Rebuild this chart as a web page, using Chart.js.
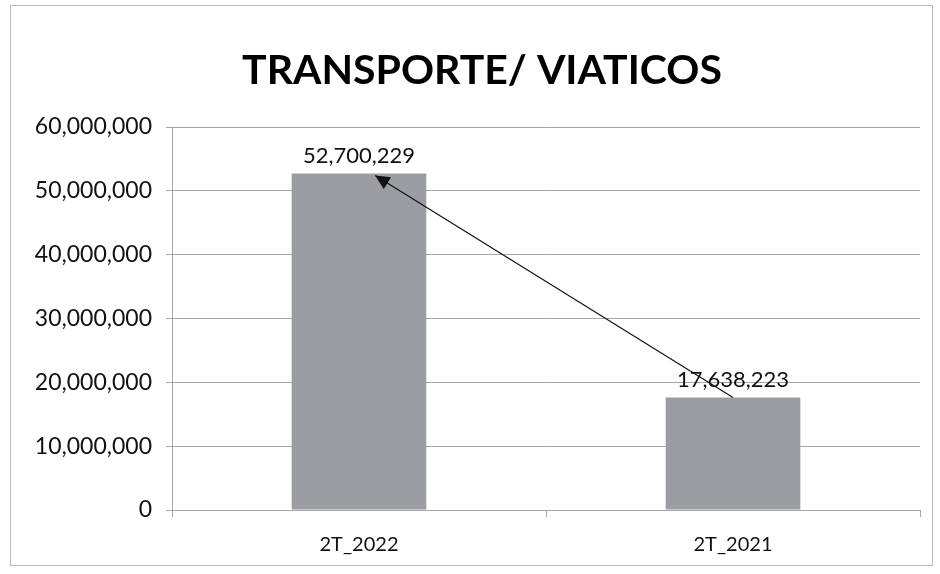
<!DOCTYPE html>
<html>
<head>
<meta charset="utf-8">
<script src="https://cdn.jsdelivr.net/npm/chart.js@4/dist/chart.umd.min.js"></script>
<style>
html,body{margin:0;padding:0;background:#fff;}
#wrap{width:940px;height:574px;position:relative;}
</style>
</head>
<body>
<div id="wrap"><canvas id="c" width="940" height="574"></canvas></div>
<script>
const categories = ["2T_2022", "2T_2021"];
const values = [52700229, 17638223];
const yTicks = [0, 10000000, 20000000, 30000000, 40000000, 50000000, 60000000];
const chartTitle = "TRANSPORTE/ VIATICOS";

const FONT = "Lato, 'Open Sans', sans-serif";
const fmt = v => v.toLocaleString('en-US');

const framePlugin = {
  id: 'frame',
  beforeDraw(chart) {
    const ctx = chart.ctx;
    ctx.save();
    ctx.fillStyle = '#ffffff';
    ctx.fillRect(0, 0, chart.width, chart.height);
    ctx.strokeStyle = '#b8b8b8';
    ctx.lineWidth = 1;
    ctx.strokeRect(10.5, 5.5, 922, 560);
    // title
    ctx.fillStyle = '#000';
    ctx.font = "bold 41px " + FONT;
    ctx.textAlign = 'center';
    ctx.textBaseline = 'alphabetic';
    ctx.fillText(chartTitle, 482, 84);
    ctx.restore();
  }
};

const labelPlugin = {
  id: 'labels',
  afterDatasetsDraw(chart) {
    const ctx = chart.ctx;
    const meta = chart.getDatasetMeta(0);
    ctx.save();
    ctx.font = "22px " + FONT;
    ctx.fillStyle = '#111';
    ctx.textAlign = 'center';
    ctx.textBaseline = 'bottom';
    meta.data.forEach((bar, i) => {
      ctx.fillText(fmt(values[i]), bar.x, bar.y - 7);
    });
    const b0 = meta.data[0], b1 = meta.data[1];
    const x1 = b1.x, y1 = b1.y;
    const x0 = b0.x + b0.width * 0.12, y0 = b0.y + 2;
    ctx.strokeStyle = '#111';
    ctx.lineWidth = 1.2;
    ctx.beginPath();
    ctx.moveTo(x1, y1);
    ctx.lineTo(x0, y0);
    ctx.stroke();
    const ang = Math.atan2(y0 - y1, x0 - x1);
    const L = 16, W = 0.45;
    ctx.fillStyle = '#111';
    ctx.beginPath();
    ctx.moveTo(x0, y0);
    ctx.lineTo(x0 - L * Math.cos(ang - W), y0 - L * Math.sin(ang - W));
    ctx.lineTo(x0 - L * Math.cos(ang + W), y0 - L * Math.sin(ang + W));
    ctx.closePath();
    ctx.fill();
    ctx.restore();
  }
};

new Chart(document.getElementById('c'), {
  type: 'bar',
  data: {
    labels: categories,
    datasets: [{
      data: values,
      backgroundColor: '#9c9da2',
      borderWidth: 0,
      barPercentage: 0.36,
      categoryPercentage: 1.0
    }]
  },
  options: {
    responsive: false,
    animation: false,
    devicePixelRatio: 1,
    layout: { padding: { left: 12, right: 20, top: 127, bottom: 6 } },
    plugins: {
      legend: { display: false },
      tooltip: { enabled: false },
      title: { display: false }
    },
    scales: {
      y: {
        min: 0, max: 60000000,
        afterBuildTicks(scale) { scale.ticks = yTicks.map(v => ({ value: v })); },
        afterFit(scale) { scale.width = 160; },
        ticks: {
          color: '#111',
          font: { family: FONT, size: 23 },
          padding: 14,
          callback: v => fmt(v)
        },
        grid: { color: '#a6a6a6', lineWidth: 1, tickLength: 6, drawTicks: true },
        border: { display: true, color: '#a6a6a6' }
      },
      x: {
        afterFit(scale) { scale.height = 58; },
        ticks: {
          color: '#111',
          font: { family: FONT, size: 20 },
          padding: 16
        },
        grid: { offset: true, drawOnChartArea: false, drawTicks: true, tickLength: 7, color: '#a6a6a6' },
        border: { display: true, color: '#a6a6a6' }
      }
    }
  },
  plugins: [framePlugin, labelPlugin]
});
</script>
</body>
</html>
